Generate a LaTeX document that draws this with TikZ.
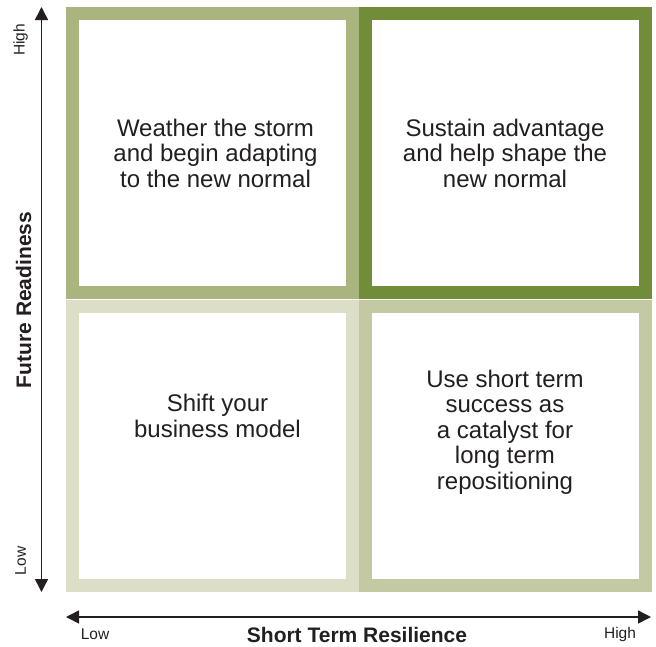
\documentclass[tikz,border=0pt]{standalone}
\usepackage{fontspec}
\setmainfont{Liberation Sans}
\usepackage{tikz}
\usetikzlibrary{arrows.meta,positioning}

\definecolor{tlgreen}{HTML}{A9B47F}
\definecolor{trgreen}{HTML}{728D3A}
\definecolor{blgreen}{HTML}{DCDEC8}
\definecolor{brgreen}{HTML}{C3C9A3}
\definecolor{ink}{HTML}{231F20}

\begin{document}
\begin{tikzpicture}[x=1pt, y=-1pt, >={Triangle[length=13pt,width=13pt]},
	quad/.style={draw=#1, line width=13pt, fill=white, inner sep=0pt, outer sep=0pt,
		minimum width=280pt, minimum height=279pt},
	quadtext/.style={align=center, text=ink, font=\fontsize{24}{25.5}\selectfont},
	ticktext/.style={text=ink, inner sep=0pt, font=\fontsize{15.5}{16}\selectfont},
	axistext/.style={text=ink, inner sep=0pt, font=\fontsize{21}{22}\selectfont\bfseries},
	axis/.style={<->, line width=1.5pt, ink}]
	\useasboundingbox (0,0) rectangle (656,646);

	% Quadrants {tl, tr, bl, br}
	\node [quad=tlgreen] 	(tlbox) at (212.5,153)	{};
	\node [quad=trgreen] 	(trbox) at (505,153)	{};
	\node [quad=blgreen] 	(blbox) at (212.5,445.5)	{};
	\node [quad=brgreen] 	(brbox) at (505,445.5)	{};

	% Quadrant texts
	\node [quadtext] (tl) at ([xshift=3pt]tlbox.center)	{Weather the storm\\and begin adapting\\to the new normal};
	\node [quadtext] (tr) at (trbox.center)	{Sustain advantage\\and help shape the\\new normal};
	\node [quadtext] (bl) at ([xshift=5pt, yshift=29.5pt]blbox.center)	{Shift your\\business model};
	\node [quadtext] (br) at ([yshift=13.5pt]brbox.center)	{Use short term\\success as\\a catalyst for\\long term\\repositioning};

	% Axes
	\coordinate (ytop) at (41.5,7);
	\coordinate (ybot) at (41.5,592);
	\coordinate (xleft) at (66,617);
	\coordinate (xright) at (651,617);
	\draw [axis] (ybot) -- (ytop);
	\draw [axis] (xleft) -- (xright);

	% Axis labels
	\node [ticktext, rotate=90] 	(yhigh) at (20.5,40)	{High};
	\node [ticktext, rotate=90] 	(ylow) at (20.5,561)	{Low};
	\node [axistext, rotate=90] 	(ylabel) at (23.5,300)	{Future Readiness};
	\node [ticktext] 	(xlow) at (95,634)	{Low};
	\node [ticktext] 	(xhigh) at (620,634)	{High};
	\node [axistext] 	(xlabel) at (357,634.5)	{Short Term Resilience};

\end{tikzpicture}
\end{document}
